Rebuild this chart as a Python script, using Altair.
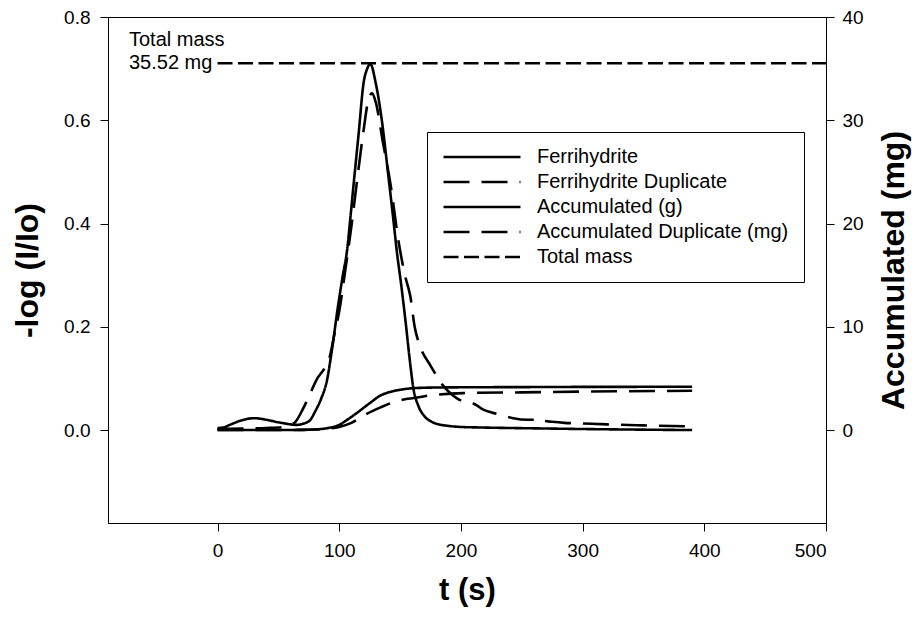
import altair as alt
import pandas as pd

# ---- data ----
t_ferri = [0, 5, 10, 20, 30, 40, 50, 55, 60, 65, 70, 76, 80, 85, 90, 94, 99, 103, 106.5,
           109, 112, 116, 120, 123, 125.6, 130, 135, 140, 144.5, 147.5, 151, 155, 158, 161,
           165, 170, 176, 182, 190, 200, 216, 240, 270, 300, 340, 390]
ferri = [0.004, 0.005, 0.010, 0.019, 0.023, 0.020, 0.015, 0.013, 0.011, 0.010, 0.012, 0.019,
         0.035, 0.060, 0.097, 0.155, 0.240, 0.300, 0.349, 0.407, 0.480, 0.575, 0.672, 0.700,
         0.709, 0.672, 0.600, 0.500, 0.407, 0.343, 0.280, 0.200, 0.135, 0.080, 0.047, 0.027,
         0.016, 0.011, 0.008, 0.006, 0.005, 0.004, 0.003, 0.002, 0.001, 0.0]

t_ferri_dup = [0, 20, 40, 55, 60, 64, 70, 76, 82, 88, 92, 96, 100, 105, 110.7, 115, 120, 124,
               127, 130, 136, 142, 149, 154, 158.5, 162, 166.7, 175, 180, 184, 192, 199.5, 206,
               213, 218, 224, 235, 243, 255, 262, 265, 268, 275, 285, 298, 320, 350, 390]
ferri_dup = [0.002, 0.003, 0.004, 0.006, 0.010, 0.016, 0.040, 0.070, 0.100, 0.120, 0.140, 0.185,
             0.230, 0.310, 0.407, 0.490, 0.580, 0.640, 0.652, 0.635, 0.556, 0.478, 0.362, 0.300,
             0.258, 0.200, 0.161, 0.125, 0.105, 0.090, 0.070, 0.058, 0.055, 0.048, 0.040, 0.035,
             0.028, 0.023, 0.020, 0.020, 0.022, 0.018, 0.016, 0.014, 0.013, 0.011, 0.009, 0.007]

t_acc = [0, 40, 70, 80, 90, 100, 106, 115, 125, 134, 142, 150, 160, 170, 180, 200, 250, 300, 390]
acc = [0, 0, 0.02, 0.06, 0.18, 0.50, 0.95, 1.70, 2.60, 3.35, 3.70, 3.90, 4.05, 4.10, 4.12, 4.14,
       4.16, 4.18, 4.19]

t_acc_dup = [0, 40, 70, 80, 90, 100, 110, 123, 134, 145, 155, 161, 170, 180, 202, 250, 298, 390]
acc_dup = [0, 0, 0.02, 0.05, 0.12, 0.30, 0.70, 1.60, 2.20, 2.72, 3.00, 3.10, 3.28, 3.42, 3.58,
           3.65, 3.72, 3.80]

total_mass = 35.52
mass_span = [0, 500]

series_order = ["Ferrihydrite", "Ferrihydrite Duplicate", "Accumulated (g)",
                "Accumulated Duplicate (mg)", "Total mass"]

x_ticks = [0, 100, 200, 300, 400, 500]
left_ticks = [0.0, 0.2, 0.4, 0.6, 0.8]
right_ticks = [0, 10, 20, 30, 40]

# ---- tables ----
def frame(ts, vs, name):
    return pd.DataFrame({"t": ts, "v": vs, "series": name})

left_df = pd.concat([frame(t_ferri, ferri, series_order[0]),
                     frame(t_ferri_dup, ferri_dup, series_order[1])])
right_df = pd.concat([frame(t_acc, acc, series_order[2]),
                      frame(t_acc_dup, acc_dup, series_order[3])])
mass_df = pd.DataFrame({"t": [mass_span[0]], "t2": [mass_span[1]], "v": [total_mass],
                        "series": ["Total mass"], "label": [f"{total_mass:.2f} mg"],
                        "title": ["Total mass"]})

FONT = "Liberation Sans"
LW = 2.6
TXT = 20

x_scale = alt.Scale(domain=[-90, 500], nice=False, zero=False)
x_axis = alt.Axis(values=x_ticks, title="t (s)", titlePadding=15, titleFontSize=31)
yl_scale = alt.Scale(domain=[-0.18, 0.8], nice=False, zero=False)
yl_axis = alt.Axis(orient="left", values=left_ticks, format=".1f", title="-log (I/Io)",
                   titlePadding=19)
yr_scale = alt.Scale(domain=[-9, 40], nice=False, zero=False)
yr_axis = alt.Axis(orient="right", values=right_ticks, title="Accumulated (mg)",
                   titleAngle=270, titleBaseline="top", labelPadding=8, titlePadding=15)

dash = alt.StrokeDash(
    "series:N",
    scale=alt.Scale(domain=series_order,
                    range=[[1, 0], [26, 12], [1, 0], [26, 12], [15, 5.5]]),
    legend=alt.Legend(
        title=None, orient="none", legendX=319, legendY=115, padding=15,
        strokeColor="black", fillColor="white", symbolType="stroke",
        symbolSize=5929, symbolStrokeWidth=LW, symbolStrokeColor="black",
        labelFont=FONT, labelFontSize=TXT, labelColor="black", labelOffset=15,
        rowPadding=5, clipHeight=20, labelLimit=400,
    ),
)

left = alt.Chart(left_df).mark_line(color="black", strokeWidth=LW, interpolate="monotone").encode(
    x=alt.X("t:Q", scale=x_scale, axis=x_axis),
    y=alt.Y("v:Q", scale=yl_scale, axis=yl_axis),
    strokeDash=dash,
)

right_lines = alt.Chart(right_df).mark_line(color="black", strokeWidth=LW,
                                            interpolate="monotone").encode(
    x=alt.X("t:Q", scale=x_scale, axis=x_axis),
    y=alt.Y("v:Q", scale=yr_scale, axis=yr_axis),
    strokeDash=dash,
)

rule = alt.Chart(mass_df).mark_rule(color="black", strokeWidth=LW).encode(
    x=alt.X("t:Q", scale=x_scale, axis=x_axis),
    x2="t2:Q",
    y=alt.Y("v:Q", scale=yr_scale, axis=yr_axis),
    strokeDash=dash,
)

label_value = alt.Chart(mass_df).mark_text(align="left", baseline="middle", font=FONT,
                                           fontSize=TXT, color="black").encode(
    x=alt.value(21),
    y=alt.Y("v:Q", scale=yr_scale, axis=yr_axis),
    text="label:N",
)
label_title = alt.Chart(mass_df).mark_text(align="left", baseline="middle", font=FONT,
                                           fontSize=TXT, color="black", dy=-23).encode(
    x=alt.value(21),
    y=alt.Y("v:Q", scale=yr_scale, axis=yr_axis),
    text="title:N",
)

right = alt.layer(right_lines, rule, label_value, label_title)

chart = alt.layer(left, right).resolve_scale(y="independent").properties(
    width=718, height=506,
    background="white",
    autosize=alt.AutoSizeParams(type="none"),
    padding={"left": 100, "top": 9, "right": 88, "bottom": 88},
).configure_view(
    stroke="black", strokeWidth=1
).configure_axis(
    grid=False, domainColor="black", domainWidth=1, tickColor="black", tickWidth=1,
    tickSize=8, labelPadding=10, labelColor="black", labelFont=FONT, labelFontSize=19,
    titleColor="black", titleFont=FONT, titleFontSize=32, titleFontWeight="bold",
)

chart.save("out.html", embed_options={"renderer": "svg", "actions": False})
